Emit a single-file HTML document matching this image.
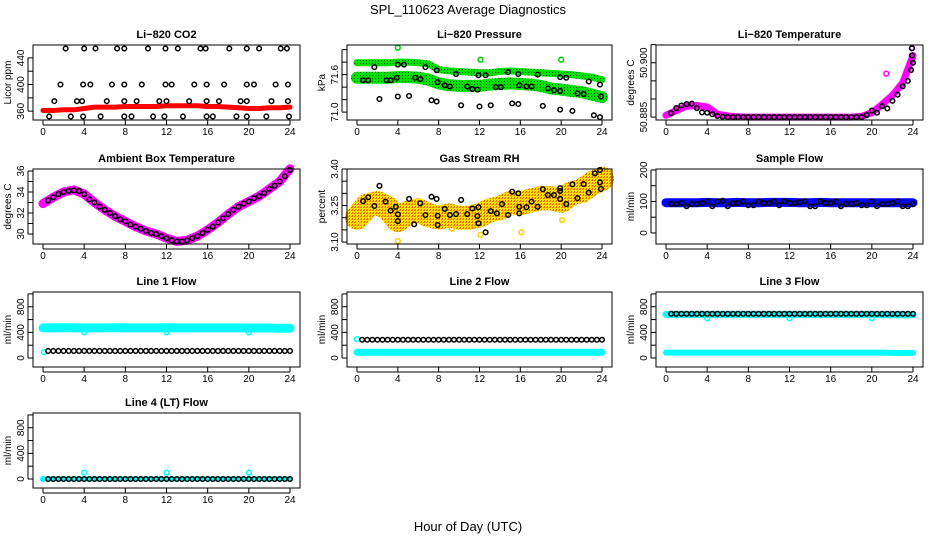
<!DOCTYPE html>
<html><head><meta charset="utf-8"><style>
body{margin:0;background:#fff}
svg{display:block;font-family:"Liberation Sans",Arial,sans-serif}
</style></head><body>
<svg id="c" width="936" height="540" viewBox="0 0 936 540">
<defs>
<pattern id="gpat" width="3" height="3" patternUnits="userSpaceOnUse"><rect width="3" height="3" fill="#00e000"/><rect width="1" height="1" fill="#1a5a1a"/></pattern>
<pattern id="opat" width="3" height="3" patternUnits="userSpaceOnUse"><rect width="3" height="3" fill="#ffe000"/><rect width="2" height="1" fill="#f08000"/><rect x="1" y="2" width="1" height="1" fill="#e06000"/></pattern>
</defs>
<text x="468" y="14" text-anchor="middle" font-size="13">SPL_110623  Average Diagnostics</text>
<text x="468" y="531" text-anchor="middle" font-size="13">Hour of Day (UTC)</text>
</svg>
<script>
const HOURS=[0,1,2,3,4,5,6,7,8,9,10,11,12,13,14,15,16,17,18,19,20,21,22,23,24];
const HALF=[0.5,1,1.5,2,2.5,3,3.5,4,4.5,5,5.5,6,6.5,7,7.5,8,8.5,9,9.5,10,10.5,11,11.5,12,12.5,13,13.5,14,14.5,15,15.5,16,16.5,17,17.5,18,18.5,19,19.5,20,20.5,21,21.5,22,22.5,23,23.5,24];
const X_TICKS=[0,4,8,12,16,20,24];

const co2Band=[361,361,362,362,364,366,366,366,367,367,367,367,368,368,368,368,367,367,366,365,364,364,365,365,366];
const co2PtH=[2.2,4.0,5.1,7.2,7.9,10.2,11.9,13.1,15.3,15.8,18.1,19.8,21.0,23.1,23.7,1.7,3.9,4.6,6.7,7.9,9.6,11.9,12.5,14.7,15.9,17.6,19.8,20.5,22.6,23.8,1.1,3.3,3.8,6.2,7.9,9.1,11.3,12.0,14.2,15.9,17.1,19.2,19.8,22.2,23.8,0.6,2.7,3.9,5.6,7.9,8.6,10.7,11.8,13.6,15.9,16.5,18.8,19.8,21.7,23.9];
const co2PtV=[454,454,454,454,454,454,454,454,454,454,454,454,454,454,454,400,400,400,400,400,400,400,400,400,400,400,400,400,400,400,375,375,375,375,375,375,375,375,375,375,375,375,375,375,375,352,352,352,352,352,352,352,352,352,352,352,352,352,352,352];

const presUpper=[71.79,71.79,71.79,71.79,71.80,71.80,71.79,71.77,71.68,71.66,71.65,71.64,71.63,71.63,71.65,71.66,71.65,71.64,71.63,71.62,71.61,71.60,71.58,71.56,71.52];
const presLower=[71.55,71.55,71.55,71.55,71.56,71.56,71.55,71.52,71.46,71.43,71.42,71.42,71.42,71.44,71.45,71.46,71.45,71.44,71.42,71.38,71.36,71.34,71.32,71.28,71.24];
const presOutH=[4.0,12.1,20.0];
const presOutV=[72.03,71.84,71.84];
const presPtH=[1.7,0.6,1.1,2.2,2.9,3.3,3.9,4.0,4.6,4.0,5.1,5.7,6.2,6.7,7.3,7.8,7.8,7.9,8.6,9.1,9.7,10.2,10.8,11.3,11.8,11.9,12.0,12.6,13.1,13.6,14.1,14.8,15.2,15.8,15.8,15.9,16.6,17.1,17.7,18.2,18.7,19.3,19.9,19.9,19.9,20.5,21.1,21.6,22.2,22.7,23.2,23.8,23.8,23.9];
const presPtV=[71.72,71.51,71.51,71.21,71.51,71.51,71.55,71.76,71.76,71.25,71.26,71.55,71.53,71.72,71.19,71.17,71.67,71.48,71.43,71.41,71.61,71.11,71.41,71.37,71.36,71.59,71.09,71.59,71.11,71.40,71.40,71.64,71.14,71.13,71.61,71.43,71.41,71.41,71.60,71.10,71.38,71.35,71.34,71.56,71.04,71.55,71.02,71.30,71.29,71.49,70.95,70.92,71.44,71.25];

const tempBand=[50.8855,50.8868,50.8880,50.8882,50.8878,50.8858,50.8853,50.8851,50.8850,50.8850,50.8850,50.8850,50.8850,50.8850,50.8850,50.8850,50.8850,50.8850,50.8850,50.8852,50.8862,50.8885,50.8910,50.8945,50.9020];
const tempPts=[50.8861,50.8875,50.8882,50.8886,50.8887,50.8875,50.8863,50.8862,50.8858,50.8853,50.8851,50.885,50.885,50.885,50.885,50.885,50.885,50.885,50.885,50.885,50.885,50.885,50.885,50.885,50.885,50.885,50.885,50.885,50.885,50.885,50.885,50.885,50.885,50.885,50.885,50.885,50.885,50.885,50.8856,50.8868,50.8862,50.8880,50.8874,50.8895,50.8912,50.8935,50.8950,50.9000];
const tempExH=[23.9,23.9,23.8,21.4];
const tempExV=[50.902,50.904,50.898,50.897];

const ambBand=[32.9,33.5,34.0,34.2,33.8,33.0,32.3,31.7,31.2,30.7,30.3,30.0,29.6,29.3,29.4,29.8,30.4,31.1,31.9,32.6,33.1,33.6,34.3,35.0,36.2];
const ambPts=[33.2,33.5,33.8,34.0,34.1,34.15,34.1,33.8,33.3,33.0,32.6,32.3,32.0,31.7,31.4,31.2,30.9,30.7,30.5,30.3,30.1,30.0,29.8,29.6,29.4,29.3,29.3,29.4,29.6,29.8,30.1,30.4,30.7,31.1,31.5,31.9,32.3,32.6,32.9,33.1,33.4,33.6,33.9,34.3,34.6,35.0,35.5,36.1];

const rhBand=[3.20,3.25,3.26,3.24,3.19,3.22,3.23,3.21,3.20,3.21,3.20,3.20,3.21,3.23,3.24,3.26,3.26,3.27,3.28,3.28,3.27,3.30,3.31,3.34,3.36];
const rhOutH=[0.2,4.0,9.3,12.1,16.1,20.1];
const rhOutV=[3.17,3.104,3.155,3.13,3.14,3.19];
const rhPtH=[0.6,1.1,1.7,2.2,2.8,3.3,3.8,4.0,4.0,5.1,5.6,6.2,6.7,7.3,7.8,7.9,7.9,8.6,9.1,9.7,10.2,10.8,11.3,11.8,11.9,11.9,12.6,13.1,13.7,14.2,14.8,15.2,15.8,15.9,15.9,16.6,17.1,17.7,18.2,18.7,19.3,19.9,19.9,19.9,20.5,21.1,21.6,22.2,22.7,23.3,23.8,23.8,23.9];
const rhPtV=[3.268,3.284,3.248,3.331,3.266,3.229,3.245,3.214,3.186,3.277,3.173,3.259,3.211,3.286,3.277,3.208,3.170,3.236,3.211,3.215,3.273,3.215,3.238,3.207,3.243,3.177,3.140,3.227,3.218,3.256,3.211,3.307,3.300,3.245,3.218,3.243,3.266,3.245,3.317,3.293,3.293,3.277,3.321,3.310,3.256,3.337,3.280,3.338,3.303,3.382,3.396,3.345,3.318];

const sampBand=[96,96,96,96,97,96,96,97,96,96,97,97,97,96,96,97,96,96,96,96,96,96,96,96,96];
const sampPts=[92,92,95,85,92,92,95,100,85,100,102,85,95,95,100,88,88,100,95,95,100,88,100,95,95,98,100,85,85,100,95,95,100,85,92,92,95,88,88,100,85,92,92,95,100,85,85,92];

const l1Band=[470,470,472,470,470,470,470,472,470,470,470,470,472,470,470,470,470,470,470,470,468,468,468,466,466];
const l1Pts=[110,110,110,110,110,110,110,110,110,110,110,110,110,110,110,110,110,110,110,110,110,110,110,110,110,110,110,110,110,110,110,110,110,110,110,110,110,110,110,110,110,110,110,110,110,110,110,110];
const l1OutH=[0.1,4.0,12.0,20.0];
const l1OutV=[90,400,400,400];

const l2Band=[90,90,90,90,90,90,90,90,90,90,90,90,90,90,90,90,90,90,90,90,90,90,90,90,90];
const l2Pts=[285,285,285,285,285,285,285,285,285,285,285,285,285,285,285,285,285,285,285,285,285,285,285,285,285,285,285,285,285,285,285,285,285,285,285,285,285,285,285,285,285,285,285,285,285,285,285,285];
const l2OutH=[0.0];
const l2OutV=[295];

const l3BandHi=[680,680,680,680,680,680,680,680,680,680,680,680,680,680,680,680,680,680,680,680,680,678,678,676,676];
const l3BandLo=[85,85,85,85,85,85,85,85,85,85,85,85,85,85,85,85,85,85,85,85,85,85,80,78,80];
const l3Pts=[690,690,690,690,690,690,690,690,690,690,690,690,690,690,690,690,690,690,690,690,690,690,690,690,690,690,690,690,690,690,690,690,690,690,690,690,690,690,690,690,690,690,690,690,690,690,690,690];
const l3OutH=[4.0,12.0,20.0];
const l3OutV=[620,620,620];

const l4Band=[0,0,0,0,0,0,0,0,0,0,0,0,0,0,0,0,0,0,0,0,0,0,0,0,0];
const l4Pts=[0,0,0,0,0,0,0,0,0,0,0,0,0,0,0,0,0,0,0,0,0,0,0,0,0,0,0,0,0,0,0,0,0,0,0,0,0,0,0,0,0,0,0,0,0,0,0,0];
const l4OutH=[0.0,4.0,12.0,20.0];
const l4OutV=[0,100,100,100];

const svg=document.getElementById('c');
const NS='http://www.w3.org/2000/svg';
function mk(tag,attrs,parent){const e=document.createElementNS(NS,tag);for(const k in attrs)e.setAttribute(k,attrs[k]);(parent||svg).appendChild(e);return e;}

const COLS=[[33,300],[347,612],[656,923]];
const ROWS=[45,169,292,413];
const BH=75;

function panel(o){
  const [L,R]=COLS[o.col];const T=ROWS[o.row];const B=T+BH;
  const g=mk('g',{});
  
  
  const x0=L+10,x1=R-10;
  const sx=h=>x0+(x1-x0)*h/24;
  const sy=v=>B-(v-o.dom[0])/(o.dom[1]-o.dom[0])*BH;
  const t=mk('text',{x:(L+R)/2,y:T-7,'text-anchor':'middle','font-size':11,'font-weight':'bold'},g);
  t.textContent=o.title;
  
  
  (o.bands||[]).forEach(b=>{
    const pts=b.v.map((v,i)=>sx(HOURS[i]).toFixed(1)+','+sy(v).toFixed(1)).join(' ');
    const pl=mk('polyline',{points:pts,fill:'none',stroke:b.c,'stroke-width':b.w,'stroke-linejoin':'round','stroke-linecap':'round'},g);
    
    
  });
  (o.outs||[]).forEach(s=>{
    s.h.forEach((h,i)=>{
      const c=mk('circle',{cx:sx(h),cy:sy(s.v[i]),r:2.4,fill:'none',stroke:s.c,'stroke-width':1.5},g);
      
      
    });
  });
  (o.pts||[]).forEach(s=>{
    s.h.forEach((h,i)=>{
      const c=mk('circle',{cx:sx(h),cy:sy(s.v[i]),r:2.3,fill:'none',stroke:s.c||'#000','stroke-width':1.5},g);
      
      
    });
  });
  const box=mk('rect',{x:L,y:T,width:R-L,height:BH,fill:'none',stroke:'#000','stroke-width':1},g);
  
  
  X_TICKS.forEach(h=>{
    mk('line',{x1:sx(h),x2:sx(h),y1:B,y2:B+5,stroke:'#000'},g);
    const tl=mk('text',{x:sx(h),y:B+15,'text-anchor':'middle','font-size':10},g);
    tl.textContent=h;
    
    
  });
  mk('line',{x1:sx(0),x2:sx(24),y1:B,y2:B,stroke:'#000'},g).setAttribute('transform','translate(0,5)');
  o.yt.forEach(v=>{mk('line',{x1:L-5,x2:L,y1:sy(v),y2:sy(v),stroke:'#000'},g);});
  mk('line',{x1:L-5,x2:L-5,y1:sy(o.yt[0]),y2:sy(o.yt[o.yt.length-1]),stroke:'#000'},g);
  o.yl.forEach(v=>{
    const yy=sy(v);
    const tl=mk('text',{x:L-9,y:yy,'text-anchor':'middle','font-size':10,transform:`rotate(-90 ${L-9} ${yy})`},g);
    tl.textContent=o.fmt?o.fmt(v):v;
    
    
  });
  const yx=L-22, ym=(T+B)/2;
  const yt=mk('text',{x:yx,y:ym,'text-anchor':'middle','font-size':10,transform:`rotate(-90 ${yx} ${ym})`},g);
  yt.textContent=o.ylab;
  
  
}

const flowTicks=[0,200,400,600,800,1000], flowLab=[0,400,800], flowDom=[-140,1030];
panel({name:'co2-panel',col:0,row:0,title:'Li\u2212820 CO2',ylab:'Licor ppm',dom:[346.7,459.3],yt:[360,380,400,420,440],yl:[360,400,440],
  bands:[{v:co2Band,c:'#ff0000',w:5}],pts:[{h:co2PtH,v:co2PtV}]});
panel({name:'pressure-panel',col:1,row:0,title:'Li\u2212820 Pressure',ylab:'kPa',dom:[70.874,72.074],yt:[71.0,71.2,71.4,71.6,71.8,72.0],yl:[71.0,71.6],fmt:v=>v.toFixed(1),
  bands:[{v:presUpper,c:'url(#gpat)',w:7},{v:presLower,c:'url(#gpat)',w:12}],outs:[{h:presOutH,v:presOutV,c:'#00d000'}],pts:[{h:presPtH,v:presPtV}]});
panel({name:'licor-temperature-panel',col:2,row:0,title:'Li\u2212820 Temperature',ylab:'degrees C',dom:[50.8842,50.9049],yt:[50.885,50.89,50.895,50.9,50.905],yl:[50.885,50.9],fmt:v=>v.toFixed(3),
  bands:[{v:tempBand,c:'#ff00ff',w:7}],outs:[{h:tempExH,v:tempExV,c:'#ff00ff'}],pts:[{h:HALF,v:tempPts},{h:tempExH.slice(0,3),v:tempExV.slice(0,3)}]});
panel({name:'ambient-temperature-panel',col:0,row:1,title:'Ambient Box Temperature',ylab:'degrees C',dom:[29.05,36.19],yt:[30,31,32,33,34,35,36],yl:[30,32,34,36],
  bands:[{v:ambBand,c:'#ff00ff',w:9}],pts:[{h:HALF,v:ambPts}]});
panel({name:'gas-rh-panel',col:1,row:1,title:'Gas Stream RH',ylab:'percent',dom:[3.092,3.40],yt:[3.10,3.15,3.20,3.25,3.30,3.35,3.40],yl:[3.10,3.25,3.40],fmt:v=>v.toFixed(2),
  bands:[{v:rhBand,c:'url(#opat)',w:24}],outs:[{h:rhOutH,v:rhOutV,c:'#ffd000'}],pts:[{h:rhPtH,v:rhPtV}]});
panel({name:'sample-flow-panel',col:2,row:1,title:'Sample Flow',ylab:'ml/min',dom:[-35,203],yt:[0,50,100,150,200],yl:[0,100,200],
  bands:[{v:sampBand,c:'#0000ff',w:9}],pts:[{h:HALF,v:sampPts}]});
panel({name:'line1-flow-panel',col:0,row:2,title:'Line 1 Flow',ylab:'ml/min',dom:flowDom,yt:flowTicks,yl:flowLab,
  bands:[{v:l1Band,c:'#00ffff',w:9}],outs:[{h:l1OutH,v:l1OutV,c:'#00ffff'}],pts:[{h:HALF,v:l1Pts}]});
panel({name:'line2-flow-panel',col:1,row:2,title:'Line 2 Flow',ylab:'ml/min',dom:flowDom,yt:flowTicks,yl:flowLab,
  bands:[{v:l2Band,c:'#00ffff',w:7}],outs:[{h:l2OutH,v:l2OutV,c:'#00ffff'}],pts:[{h:HALF,v:l2Pts}]});
panel({name:'line3-flow-panel',col:2,row:2,title:'Line 3 Flow',ylab:'ml/min',dom:flowDom,yt:flowTicks,yl:flowLab,
  bands:[{v:l3BandHi,c:'#00ffff',w:7},{v:l3BandLo,c:'#00ffff',w:6}],outs:[{h:l3OutH,v:l3OutV,c:'#00ffff'}],pts:[{h:HALF,v:l3Pts}]});
panel({name:'line4-flow-panel',col:0,row:3,title:'Line 4 (LT) Flow',ylab:'ml/min',dom:flowDom,yt:flowTicks,yl:flowLab,
  bands:[{v:l4Band,c:'#00ffff',w:5}],outs:[{h:l4OutH,v:l4OutV,c:'#00ffff'}],pts:[{h:HALF,v:l4Pts}]});
</script>
</body></html>
